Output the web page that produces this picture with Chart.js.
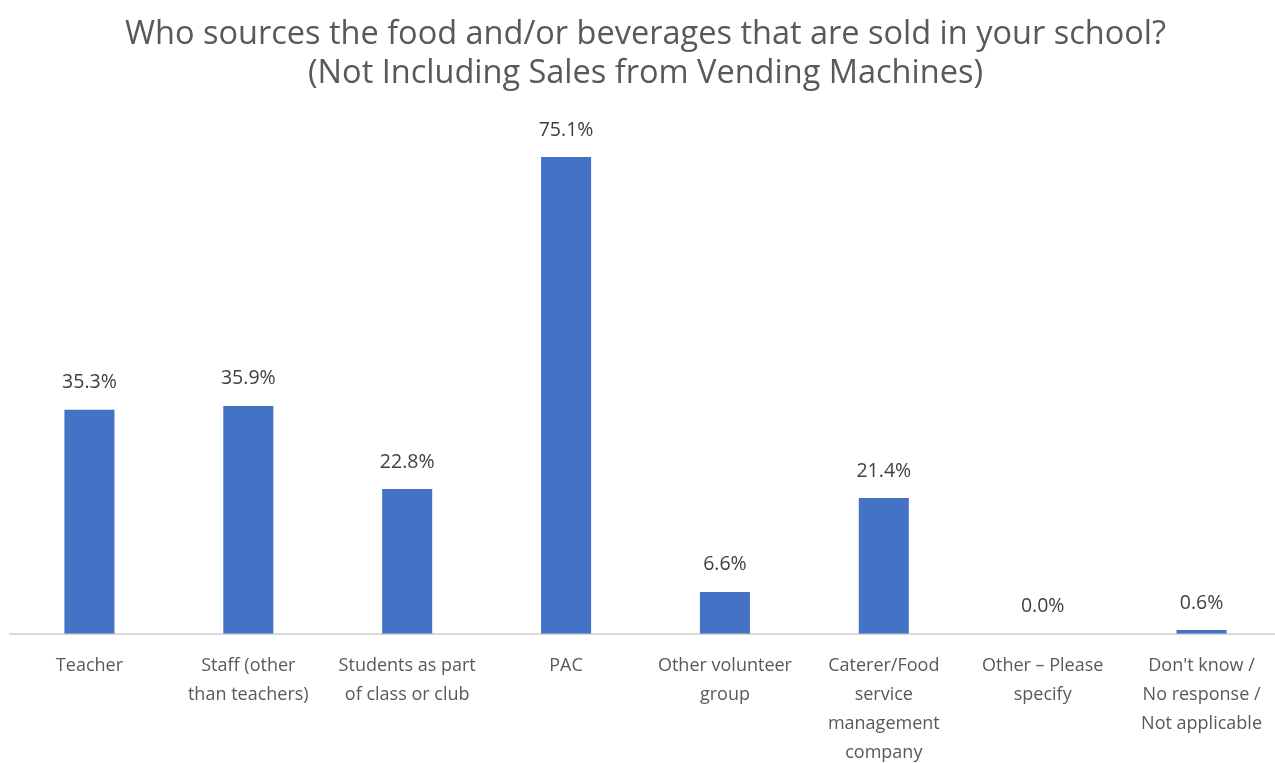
<!DOCTYPE html>
<html>
<head>
<meta charset="utf-8">
<script src="https://cdn.jsdelivr.net/npm/chart.js@4.4.1/dist/chart.umd.min.js"></script>
<style>
  html, body { margin: 0; padding: 0; background: #fff; overflow: hidden; }
  #wrap { position: relative; width: 1281px; height: 777px; }
</style>
</head>
<body>
<div id="wrap"><canvas id="myChart"></canvas></div>
<script>
// chart data
const categories = [
    ['Teacher'],
    ['Staff (other', 'than teachers)'],
    ['Students as part', 'of class or club'],
    ['PAC'],
    ['Other volunteer', 'group'],
    ['Caterer/Food', 'service', 'management', 'company'],
    ['Other \u2013 Please', 'specify'],
    ["Don't know /", 'No response /', 'Not applicable']
];
const percentValues = [35.3, 35.9, 22.8, 75.1, 6.6, 21.4, 0.0, 0.6];
const titleLines = [
    'Who sources the food and/or beverages that are sold in your school?',
    '(Not Including Sales from Vending Machines)'
];

const textGray = '#595959';
const barBlue = '#4472C4';

// draws the value above each bar
const valueLabels = {
    id: 'valueLabels',
    afterDatasetsDraw(chart) {
        const ctx = chart.ctx;
        const meta = chart.getDatasetMeta(0);
        ctx.save();
        ctx.font = '19.5px "Open Sans"';
        ctx.fillStyle = '#404040';
        ctx.textAlign = 'center';
        ctx.textBaseline = 'middle';
        meta.data.forEach((bar, i) => {
            ctx.fillText(percentValues[i].toFixed(1) + '%', bar.x, bar.y - 27);
        });
        ctx.restore();
    }
};

window.addEventListener('load', function() {
    const ctx = document.getElementById('myChart');
    new Chart(ctx, {
        type: 'bar',
        data: {
            labels: categories,
            datasets: [{
                data: percentValues,
                backgroundColor: barBlue,
                borderWidth: 0,
                barPercentage: 0.315,
                categoryPercentage: 1
            }]
        },
        plugins: [valueLabels],
        options: {
            responsive: true,
            maintainAspectRatio: false,
            animation: false,
            layout: { padding: { left: 10, right: 0, top: 0, bottom: 0 } },
            plugins: {
                legend: { display: false },
                tooltip: { enabled: false },
                title: {
                    display: true,
                    text: titleLines,
                    color: textGray,
                    font: { family: 'Open Sans', size: 32.5, weight: 'normal', lineHeight: 1.2 },
                    padding: { top: 15, bottom: 33 }
                }
            },
            scales: {
                x: {
                    grid: { display: false },
                    border: { display: true, color: '#D9D9D9', width: 2 },
                    ticks: {
                        color: textGray,
                        font: { family: 'Open Sans', size: 18, lineHeight: 1.6 },
                        padding: 10,
                        maxRotation: 0,
                        autoSkip: false
                    }
                },
                y: {
                    display: false,
                    min: 0,
                    max: 80
                }
            }
        }
    });
});
</script>
</body>
</html>
